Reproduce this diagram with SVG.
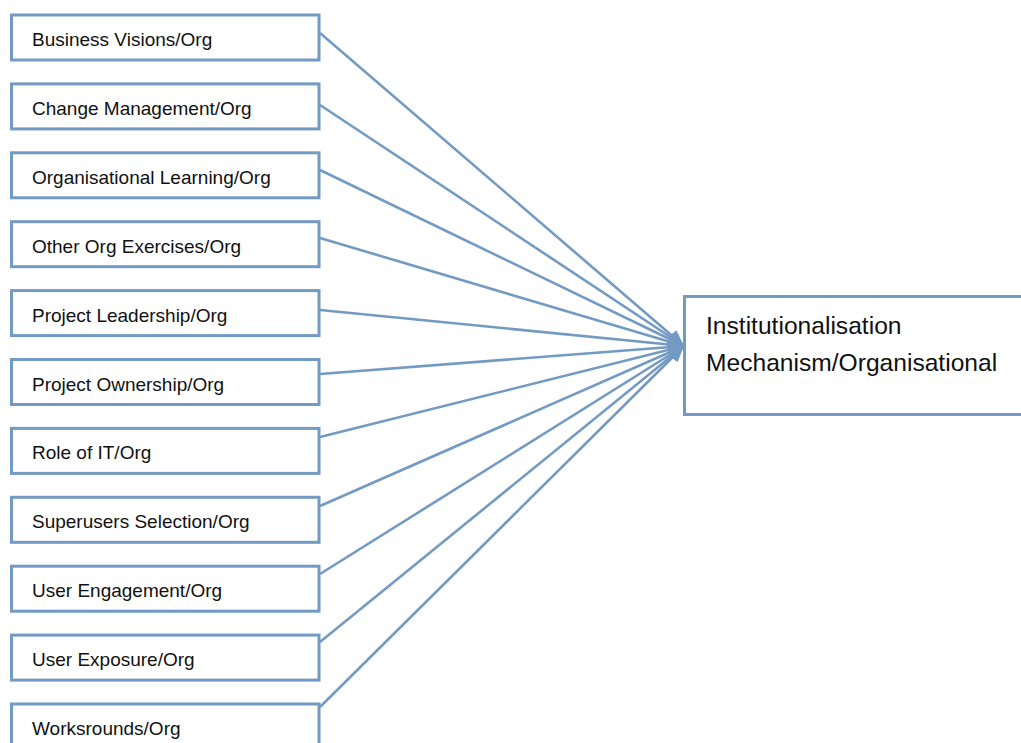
<svg xmlns="http://www.w3.org/2000/svg" width="1021" height="743" viewBox="0 0 1021 743">
  <defs>
    <style>
      .box { fill: #ffffff; stroke: #739AC3; stroke-width: 3; }
      .lbl { font-family: "Liberation Sans", Arial, sans-serif; font-size: 19px; fill: #111111; }
      .big { font-family: "Liberation Sans", Arial, sans-serif; font-size: 24.6px; fill: #111111; }
      .link { stroke: #739AC3; stroke-width: 2.6; fill: none; marker-end: url(#head); }
    </style>
    <marker id="head" markerUnits="userSpaceOnUse" viewBox="0 0 16 14" refX="16" refY="7" markerWidth="16" markerHeight="14" orient="auto">
      <path d="M0,0 L16,7 L0,14 Z" fill="#739AC3"/>
    </marker>
  </defs>
  <rect width="1021" height="743" fill="#ffffff"/>

  <!-- connectors from each factor to the target -->
  <g id="connectors">
    <line class="link" x1="320" y1="33" x2="684" y2="346"/>
    <line class="link" x1="320" y1="105" x2="684" y2="346"/>
    <line class="link" x1="320" y1="170" x2="684" y2="346"/>
    <line class="link" x1="320" y1="238" x2="684" y2="346"/>
    <line class="link" x1="320" y1="310" x2="684" y2="346"/>
    <line class="link" x1="320" y1="374" x2="684" y2="346"/>
    <line class="link" x1="320" y1="437" x2="684" y2="346"/>
    <line class="link" x1="320" y1="506" x2="684" y2="346"/>
    <line class="link" x1="320" y1="574" x2="684" y2="346"/>
    <line class="link" x1="320" y1="642" x2="684" y2="346"/>
    <line class="link" x1="320" y1="707" x2="684" y2="346"/>
  </g>

  <g id="n1"><rect class="box" x="11.5" y="15" width="307.5" height="45"/><text class="lbl" x="32" y="46">Business Visions/Org</text></g>
  <g id="n2"><rect class="box" x="11.5" y="83.9" width="307.5" height="45"/><text class="lbl" x="32" y="114.9">Change Management/Org</text></g>
  <g id="n3"><rect class="box" x="11.5" y="152.8" width="307.5" height="45"/><text class="lbl" x="32" y="183.8">Organisational Learning/Org</text></g>
  <g id="n4"><rect class="box" x="11.5" y="221.7" width="307.5" height="45"/><text class="lbl" x="32" y="252.7">Other Org Exercises/Org</text></g>
  <g id="n5"><rect class="box" x="11.5" y="290.6" width="307.5" height="45"/><text class="lbl" x="32" y="321.6">Project Leadership/Org</text></g>
  <g id="n6"><rect class="box" x="11.5" y="359.5" width="307.5" height="45"/><text class="lbl" x="32" y="390.5">Project Ownership/Org</text></g>
  <g id="n7"><rect class="box" x="11.5" y="428.4" width="307.5" height="45"/><text class="lbl" x="32" y="459.4">Role of IT/Org</text></g>
  <g id="n8"><rect class="box" x="11.5" y="497.3" width="307.5" height="45"/><text class="lbl" x="32" y="528.3">Superusers Selection/Org</text></g>
  <g id="n9"><rect class="box" x="11.5" y="566.2" width="307.5" height="45"/><text class="lbl" x="32" y="597.2">User Engagement/Org</text></g>
  <g id="n10"><rect class="box" x="11.5" y="635.1" width="307.5" height="45"/><text class="lbl" x="32" y="666.1">User Exposure/Org</text></g>
  <g id="n11"><rect class="box" x="11.5" y="704" width="307.5" height="45"/><text class="lbl" x="32" y="735">Worksrounds/Org</text></g>

  <g id="target">
    <rect class="box" x="684.5" y="296.5" width="345" height="118"/>
    <text class="big" x="706" y="334">Institutionalisation</text>
    <text class="big" x="706" y="371">Mechanism/Organisational</text>
  </g>
</svg>
